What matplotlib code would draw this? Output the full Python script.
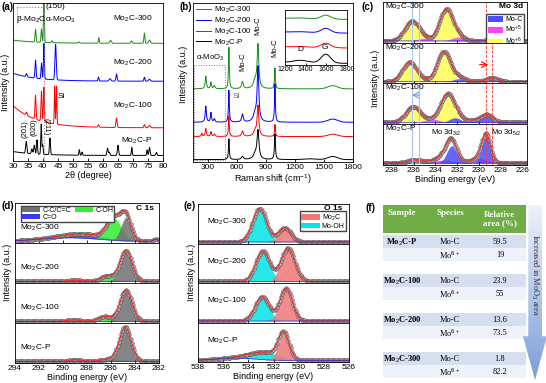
import numpy as np
import matplotlib
matplotlib.use('Agg')
import matplotlib.pyplot as plt
from matplotlib.patches import Patch, Rectangle, Polygon

plt.rcParams['font.family'] = ['Liberation Sans', 'DejaVu Sans']
plt.rcParams['mathtext.fontset'] = 'custom'
plt.rcParams['mathtext.rm'] = 'Liberation Sans'
plt.rcParams['mathtext.bf'] = 'Liberation Sans:bold'
plt.rcParams['axes.linewidth'] = 0.6
plt.rcParams['xtick.direction'] = 'in'
plt.rcParams['ytick.direction'] = 'in'
plt.rcParams['xtick.major.size'] = 2
plt.rcParams['xtick.major.width'] = 0.6
plt.rcParams['xtick.labelsize'] = 6
plt.rcParams['xtick.major.pad'] = 1.5

# ---------------- data ----------------
SAMPLES = ['Mo$_2$C-300', 'Mo$_2$C-200', 'Mo$_2$C-100', 'Mo$_2$C-P']
COLORS = ['#1a8c1a', '#0000ff', '#ff0000', '#000000']

# (a) XRD peaks: (2theta, height, width); baselines: (offset, hump)
XRD_300 = [(37.5, 0.8, 0.17), (39.5, 0.85, 0.17), (40.3, 2.6, 0.15), (43.0, 0.12, 0.2),
           (52.0, 0.08, 0.2), (58.6, 0.35, 0.15), (62.5, 0.18, 0.3), (69.5, 0.15, 0.2),
           (73.8, 0.65, 0.17), (75.5, 0.2, 0.3)]
XRD_200 = [(34.5, 0.2, 0.2), (37.5, 1.15, 0.17), (39.5, 1.0, 0.17), (40.3, 2.25, 0.15),
           (44.2, 2.25, 0.22), (58.5, 0.25, 0.15), (62.3, 0.15, 0.3), (64.5, 0.45, 0.2),
           (73.8, 0.25, 0.17), (75.5, 0.12, 0.3)]
XRD_100 = [(34.5, 0.2, 0.2), (37.5, 1.5, 0.17), (39.5, 1.9, 0.17), (40.3, 2.2, 0.15),
           (43.9, 2.4, 0.13), (44.5, 2.4, 0.13), (58.5, 0.15, 0.2), (64.5, 0.6, 0.2),
           (73.8, 0.2, 0.2), (75.5, 0.15, 0.3)]
XRD_P = [(34.4, 0.75, 0.2), (36.3, 0.3, 0.2), (37.1, 0.55, 0.2), (38.0, 0.9, 0.17),
         (39.4, 1.9, 0.15), (39.9, 0.6, 0.15), (42.3, 1.05, 0.17), (52.1, 0.35, 0.15),
         (53.0, 0.2, 0.15), (61.5, 0.45, 0.2), (62.1, 0.2, 0.2), (65.0, 0.65, 0.2),
         (69.6, 0.5, 0.15), (74.7, 0.35, 0.15), (75.5, 0.5, 0.2), (77.8, 0.2, 0.2)]
XRD_BASE = [(7.45, 0.2), (5.05, 0.5), (2.1, 1.4), (0.35, 0.25)]

# (b) Raman peaks: (shift, height, half width); baselines
RAMAN_300 = [(282, 0.8, 7), (335, 0.4, 6), (370, 0.2, 8), (520, 2.6, 5), (660, 0.45, 10),
             (790, 0.5, 20), (820, 2.7, 10), (995, 1.3, 5), (1590, 0.2, 50)]
RAMAN_200 = [(282, 1.0, 7), (335, 0.6, 6), (370, 0.2, 8), (520, 2.0, 5), (660, 0.5, 10),
             (790, 0.5, 20), (820, 3.4, 10), (995, 2.4, 5), (1590, 0.2, 50)]
RAMAN_100 = [(240, 0.2, 6), (282, 0.5, 7), (335, 0.3, 6), (370, 0.15, 8), (520, 1.3, 5),
             (660, 0.35, 10), (790, 0.3, 20), (820, 1.9, 10), (995, 0.75, 5), (1590, 0.15, 50)]
RAMAN_P = [(520, 1.3, 5), (660, 0.2, 12), (790, 0.3, 20), (820, 1.8, 12), (995, 1.6, 6),
           (1350, 0.05, 60), (1590, 0.2, 50)]
RAMAN_BASE = [4.6, 2.5, 1.6, 0.15]
# inset: base, G height, D height
INSET_BASE = [0.85, 0.6, 0.33, 0.05]
INSET_G = [0.07, 0.08, 0.08, 0.16]
INSET_D = [0.01, 0.01, 0.01, 0.04]

# (c) Mo 3d components: (species, BE, height, width)
MO3D_300 = [('Mo6', 233.0, 1.0, 0.6), ('Mo6', 236.15, 0.62, 0.65), ('Mo5', 231.9, 0.12, 0.6),
            ('Mo5', 235.0, 0.08, 0.6), ('MoC', 229.0, 0.02, 0.5), ('MoC', 232.1, 0.015, 0.5)]
MO3D_200 = [('Mo6', 233.2, 0.95, 0.6), ('Mo6', 236.35, 0.62, 0.65), ('Mo5', 231.5, 0.04, 0.7),
            ('Mo5', 234.5, 0.04, 0.7), ('MoC', 228.8, 0.13, 0.5), ('MoC', 231.9, 0.09, 0.5)]
MO3D_100 = [('Mo6', 232.9, 0.85, 0.6), ('Mo6', 236.05, 0.5, 0.65), ('Mo5', 231.0, 0.07, 0.7),
            ('Mo5', 234.3, 0.1, 0.7), ('MoC', 229.3, 0.25, 0.55), ('MoC', 232.2, 0.15, 0.5)]
MO3D_P = [('Mo4', 233.4, 0.08, 1.0), ('Mo6', 232.8, 0.15, 0.6), ('Mo6', 235.9, 0.1, 0.7),
          ('Mo5', 230.0, 0.15, 0.7), ('Mo5', 233.2, 0.1, 0.7), ('MoC', 229.35, 0.85, 0.4),
          ('MoC', 232.5, 0.55, 0.45)]

# (d) C 1s components and broad background humps
C1S_300 = [('CO', 288.3, 0.14, 1.6), ('COH', 285.75, 0.72, 0.6), ('CC', 284.75, 0.75, 0.42)]
C1S_200 = [('CO', 289.0, 0.04, 0.6), ('COH', 286.3, 0.18, 0.55), ('CC', 284.75, 1.0, 0.5)]
C1S_100 = [('CO', 289.1, 0.05, 0.6), ('COH', 286.5, 0.16, 0.55), ('CC', 284.75, 1.02, 0.5)]
C1S_P = [('CO', 289.0, 0.06, 0.5), ('COH', 285.8, 0.08, 0.9), ('CC', 284.8, 1.08, 0.48)]
C1S_BG = [[(289.5, 0.12, 2.5), (282.25, 0.07, 0.2)], [], [], []]

# (e) O 1s components
O1S_300 = [('OH', 533.1, 1.1, 0.55), ('MC', 531.1, 0.47, 0.5)]
O1S_200 = [('OH', 532.85, 1.0, 0.55), ('MC', 530.85, 1.1, 0.55)]
O1S_100 = [('OH', 532.9, 0.8, 0.55), ('MC', 531.0, 1.07, 0.5)]
O1S_P = [('OH', 532.7, 0.25, 1.2), ('MC', 531.2, 0.85, 0.42)]
O1S_BG = [[], [], [], [(535.0, 0.08, 1.5)]]

# (f) table
TAB_SAMPLES = ['Mo$_2$C-P', 'Mo$_2$C-100', 'Mo$_2$C-200', 'Mo$_2$C-300']
TAB_MOC = ['59.5', '23.9', '13.6', '1.8']
TAB_MO6 = ['19', '55', '73.5', '82.2']

FILL = {'Mo6': '#ffff55', 'Mo5': '#ff40ff', 'MoC': '#4a4aff', 'Mo4': '#c8a040',
        'CC': '#707070', 'COH': '#33ee33', 'CO': '#3a3aff',
        'OH': '#00e5e5', 'MC': '#f07878'}
ORDER = ['Mo6', 'Mo4', 'Mo5', 'MoC', 'CO', 'COH', 'CC', 'OH', 'MC']


def gauss(x, c, h, w):
    return h * np.exp(-0.5 * ((x - c) / w) ** 2)


def lor(x, c, h, w):
    return h / (1 + ((x - c) / w) ** 2)


W, H = 546, 383
fig = plt.figure(figsize=(W / 100, H / 100), dpi=100)


def box(l, t, r, b):
    return [l / W, 1 - b / H, (r - l) / W, (b - t) / H]


def ftext(x, y, s, **kw):
    fig.text(x / W, 1 - y / H, s, **kw)


# ---------------- (a) XRD ----------------
ax = fig.add_axes(box(13, 3, 163, 161))
x = np.linspace(30, 80, 3000)
for peaks, (off, hump), col in zip([XRD_300, XRD_200, XRD_100, XRD_P], XRD_BASE, COLORS):
    y = off + hump * np.exp(-(x - 30) / 8) + sum(gauss(x, c, h, w) for c, h, w in peaks)
    ax.plot(x, y, color=col, lw=0.7)
ax.set_xlim(30, 80)
ax.set_ylim(0, 10)
ax.set_yticks([])
ax.set_xticks(range(30, 81, 5))
ax.set_xlabel('2θ (degree)', fontsize=6.5, labelpad=1)
ax.axvline(40.3, ls=':', color='#888888', lw=0.8)
ax.plot([31.3, 40.3], [9.75, 9.75], ls=':', color='#888888', lw=0.8)
ax.plot([31.3, 31.3], [9.75, 8.6], ls=':', color='#888888', lw=0.8)
ax.text(31.0, 8.95, 'β-Mo$_2$C', fontsize=6, va='center')
ax.text(40.7, 8.95, 'α-MoO$_3$', fontsize=6, va='center')
ax.text(40.9, 9.8, '(150)', fontsize=6, va='center')
ax.text(44.9, 4.1, 'Si', fontsize=6, va='center')
for lab, yy in zip(SAMPLES, [9.0, 6.2, 3.5, 1.3]):
    ax.text(76.5, yy, lab, fontsize=6, ha='right', va='center')
ax.text(34.0, 1.45, '(201)', fontsize=5.5, rotation=90, ha='center', va='bottom')
ax.text(37.1, 1.6, '(020)', fontsize=5.5, rotation=90, ha='center', va='bottom')
ax.text(40.9, 1.6, '(211)', fontsize=5.5, rotation=-90, ha='center', va='bottom')
ftext(6, 82, 'Intensity (a.u.)', fontsize=6.5, rotation=90, ha='center', va='center')
ftext(1, 7, '(a)', fontsize=7, fontweight='bold', va='center')

# ---------------- (b) Raman ----------------
ax = fig.add_axes(box(193, 3, 353, 162))
x = np.linspace(150, 1800, 4000)
for peaks, off, col, lab in zip([RAMAN_300, RAMAN_200, RAMAN_100, RAMAN_P], RAMAN_BASE, COLORS, SAMPLES):
    y = off + sum(lor(x, c, h, w) if w < 40 else gauss(x, c, h, w) for c, h, w in peaks)
    ax.plot(x, y, color=col, lw=0.7, label=lab)
ax.set_xlim(150, 1800)
ax.set_ylim(0, 10)
ax.set_yticks([])
ax.set_xticks(range(300, 1801, 300))
ax.set_xlabel('Raman shift (cm$^{-1}$)', fontsize=6.5, labelpad=1)
ax.add_patch(Rectangle((165, 0.1), 310, 6.0, fill=False, ls=':', ec='#777777', lw=0.7))
ax.text(180, 6.55, 'α-MoO$_3$', fontsize=5.5, va='center')
ax.text(560, 4.15, 'Si', fontsize=6, color='#666666', va='center')
ax.text(665, 5.7, 'Mo-C', fontsize=5.5, rotation=90, ha='center', va='bottom')
ax.text(822, 8.0, 'Mo-C', fontsize=5.5, rotation=90, ha='center', va='bottom')
ax.text(990, 6.6, 'Mo-C', fontsize=5.5, rotation=90, ha='center', va='bottom')
ax.legend(loc='upper left', bbox_to_anchor=(-0.015, 1.025), fontsize=5.7, frameon=False,
          handlelength=1.9, labelspacing=0.05, borderpad=0.2, handletextpad=0.35)
ftext(184, 74, 'Intensity (a.u.)', fontsize=6.5, rotation=90, ha='center', va='center')
ftext(180, 7, '(b)', fontsize=7, fontweight='bold', va='center')

axi = fig.add_axes(box(285, 10, 347, 65))
xi = np.linspace(1200, 1800, 600)
for b, g, d, col in zip(INSET_BASE, INSET_G, INSET_D, COLORS):
    yi = b + gauss(xi, 1595, g, 45) + gauss(xi, 1350, d, 70) - 0.02 * (xi - 1200) / 600
    axi.plot(xi, yi, color=col, lw=0.7)
axi.set_xlim(1200, 1800)
axi.set_ylim(0, 1)
axi.set_yticks([])
axi.set_xticks([1200, 1400, 1600, 1800])
axi.tick_params(labelsize=5, pad=1, length=1.5)
axi.text(1350, 0.28, 'D', fontsize=6, ha='center', va='center')
axi.text(1590, 0.32, 'G', fontsize=6, ha='center', va='center')


# ---------------- XPS helper ----------------
def draw_xps(ax, x, comps, bg, base, step):
    back = base + sum((gauss(x, c, h, w) for c, h, w in bg), np.zeros_like(x))
    env = back.copy()
    for name in ORDER:
        for nm, c, h, w in comps:
            if nm == name:
                g = gauss(x, c, h, w)
                env = env + g
                ax.fill_between(x, back, back + g, color=FILL[nm], alpha=0.85, lw=0)
    idx = slice(None, None, step)
    ax.plot(x[idx], env[idx], 'o', ms=2.6, mfc='#b4b4b4', mec='#555555', mew=0.4)
    ax.plot(x, env, color='#ff2020', lw=0.7)
    ax.plot(x, back, color='#3030cc', lw=0.5)


def stack(l, t, r, b, n):
    hh = (b - t) / n
    return [fig.add_axes(box(l, t + i * hh, r, t + (i + 1) * hh)) for i in range(n)]


# ---------------- (c) Mo 3d ----------------
axs = stack(383, 2, 527, 165, 4)
x = np.linspace(238.8, 225.6, 1200)
for a, comps, lab in zip(axs, [MO3D_300, MO3D_200, MO3D_100, MO3D_P], SAMPLES):
    draw_xps(a, x, comps, [], 0.06, 9)
    a.set_xlim(238.8, 225.6)
    a.set_ylim(0, 1.3)
    a.set_yticks([])
    a.set_xticks(range(238, 225, -2))
    a.text(238.6, 1.15, lab, fontsize=6, va='center')
    a.axvline(236.1, color='#a8c8f0', lw=0.8)
    a.axvline(235.5, color='#a8c8f0', lw=0.8)
    a.axvline(229.4, color='#ff3030', lw=0.6, ls='--')
    if a is not axs[0]:
        a.axvline(228.8, color='#ff3030', lw=0.6, ls='--')
    if a is not axs[-1]:
        a.set_xticklabels([])
axs[0].text(226.0, 1.15, 'Mo 3d', fontsize=6, fontweight='bold', ha='right', va='center')
axs[0].legend(handles=[Patch(fc=FILL['MoC'], ec='none', label='Mo-C'),
                       Patch(fc=FILL['Mo5'], ec='none', label='Mo$^{+5}$'),
                       Patch(fc=FILL['Mo6'], ec='none', label='Mo$^{+6}$')],
              loc='upper right', bbox_to_anchor=(1.0, 0.78), fontsize=5, frameon=True,
              fancybox=False, edgecolor='#444444', framealpha=1, borderpad=0.2,
              labelspacing=0.1, handlelength=2.2, handleheight=0.9, handletextpad=0.3)
axs[1].annotate('', xy=(228.9, 0.6), xytext=(230.2, 0.6),
                arrowprops=dict(arrowstyle='->', color='red', lw=0.8))
axs[2].annotate('', xy=(236.4, 0.93), xytext=(235.2, 0.93),
                arrowprops=dict(arrowstyle='->', color='#6a9ad8', lw=0.8))
axs[3].text(233.0, 1.02, 'Mo 3d$_{3/2}$', fontsize=5.5, ha='center', va='center')
axs[3].text(228.9, 1.02, 'Mo 3d$_{5/2}$', fontsize=5.5, ha='left', va='center')
axs[3].set_xlabel('Binding energy (eV)', fontsize=6.5, labelpad=1)
ftext(375, 78, 'Intensity (a.u.)', fontsize=6.5, rotation=90, ha='center', va='center')
ftext(362, 7, '(c)', fontsize=7, fontweight='bold', va='center')

# ---------------- (d) C 1s ----------------
axs = stack(15, 203, 159, 363, 4)
x = np.linspace(294, 282, 1100)
for a, comps, bg, lab in zip(axs, [C1S_300, C1S_200, C1S_100, C1S_P], C1S_BG, SAMPLES):
    draw_xps(a, x, comps, bg, 0.05, 9)
    a.set_xlim(294, 282)
    a.set_ylim(0, 1.3)
    a.set_yticks([])
    a.set_xticks(range(294, 281, -2))
    a.text(293.6, 0.5, lab, fontsize=6, va='center')
    if a is not axs[-1]:
        a.set_xticklabels([])
axs[0].text(282.4, 1.12, 'C 1s', fontsize=6, fontweight='bold', ha='right', va='center')
axs[0].legend(handles=[Patch(fc=FILL['CC'], ec='none', label='C-C/C=C'),
                       Patch(fc=FILL['CO'], ec='none', label='C=O'),
                       Patch(fc=FILL['COH'], ec='none', label='C-OH')],
              ncol=2, loc='upper left', bbox_to_anchor=(0.02, 1.02), fontsize=5,
              frameon=True, fancybox=False, edgecolor='#444444', framealpha=1,
              borderpad=0.15, labelspacing=0.05, handlelength=2.6, handleheight=0.8,
              handletextpad=0.3, columnspacing=0.6)
axs[3].set_xlabel('Binding energy (eV)', fontsize=6.5, labelpad=1)
ftext(8, 272, 'Intensity (a.u.)', fontsize=6.5, rotation=90, ha='center', va='center')
ftext(2, 206, '(d)', fontsize=7, fontweight='bold', va='center')

# ---------------- (e) O 1s ----------------
axs = stack(198, 204, 349, 362, 4)
x = np.linspace(538, 526, 1100)
for a, comps, bg, lab in zip(axs, [O1S_300, O1S_200, O1S_100, O1S_P], O1S_BG, SAMPLES):
    draw_xps(a, x, comps, bg, 0.05, 9)
    a.set_xlim(538, 526)
    a.set_ylim(0, 1.3)
    a.set_yticks([])
    a.set_xticks(range(538, 525, -2))
    a.text(537.3, 0.7, lab, fontsize=6, va='center')
    if a is not axs[-1]:
        a.set_xticklabels([])
axs[0].text(526.5, 1.15, 'O 1s', fontsize=6, fontweight='bold', ha='right', va='center')
axs[0].legend(handles=[Patch(fc=FILL['MC'], ec='none', label='Mo$_2$C'),
                       Patch(fc=FILL['OH'], ec='none', label='Mo-OH')],
              loc='upper right', bbox_to_anchor=(1.0, 0.9), fontsize=5, frameon=True,
              fancybox=False, edgecolor='#444444', framealpha=1, borderpad=0.15,
              labelspacing=0.05, handlelength=2.6, handleheight=0.8, handletextpad=0.3)
axs[3].set_xlabel('Binding energy (eV)', fontsize=6.5, labelpad=1)
ftext(191, 272, 'Intensity (a.u.)', fontsize=6.5, rotation=90, ha='center', va='center')
ftext(183, 206, '(e)', fontsize=7, fontweight='bold', va='center')

# ---------------- (f) table ----------------
axt = fig.add_axes(box(383, 205, 526, 381))
axt.set_xlim(383, 526)
axt.set_ylim(381, 205)
axt.axis('off')
serif = ['Liberation Serif', 'DejaVu Serif']
axt.add_patch(Rectangle((383, 205), 143, 28, fc='#70ad47', ec='none'))
axt.text(402, 213, 'Sample', family=serif, fontsize=6.5, color='white', fontweight='bold', ha='center', va='center')
axt.text(450, 213, 'Species', family=serif, fontsize=6.5, color='white', fontweight='bold', ha='center', va='center')
axt.text(500, 219, 'Relative\narea (%)', family=serif, fontsize=6.5, color='white', fontweight='bold',
         ha='center', va='center', linespacing=1.1)
for i, (s, v1, v2) in enumerate(zip(TAB_SAMPLES, TAB_MOC, TAB_MO6)):
    yc = 242 + i * 39
    axt.add_patch(Rectangle((383, yc - 6.5), 143, 13, fc='#d6dff0', ec='none'))
    axt.add_patch(Rectangle((383, yc + 6.5), 143, 13, fc='#eef2fa', ec='none'))
    axt.text(402, yc, s, family=serif, fontsize=6, fontweight='bold', ha='center', va='center')
    axt.text(450, yc, 'Mo-C', family=serif, fontsize=6, ha='center', va='center')
    axt.text(500, yc, v1, family=serif, fontsize=6, ha='center', va='center')
    axt.text(450, yc + 13, 'Mo$^{6+}$', family=serif, fontsize=6, ha='center', va='center')
    axt.text(500, yc + 13, v2, family=serif, fontsize=6, ha='center', va='center')
ftext(365, 208, '(f)', fontsize=7, fontweight='bold', va='center')

# arrow with gradient
axa = fig.add_axes(box(522, 205, 547, 380))
axa.set_xlim(0, 1)
axa.set_ylim(0, 1)
axa.axis('off')
arrow = Polygon([(0.25, 1), (0.8, 1), (0.8, 0.25), (1.0, 0.25), (0.52, 0.0), (0.04, 0.25), (0.25, 0.25)],
                closed=True, fc='none', ec='none')
axa.add_patch(arrow)
grad = np.linspace(0, 1, 256).reshape(-1, 1)
im = axa.imshow(grad, extent=(0, 1, 0, 1), aspect='auto', origin='upper',
                cmap=matplotlib.colors.LinearSegmentedColormap.from_list('g', ['#eef2fa', '#7b9ed8']))
im.set_clip_path(arrow)
axa.text(0.52, 0.6, 'Increased in MoO$_3$ area', family=serif, fontsize=6, rotation=-90,
         ha='center', va='center', color='#333333')

fig.savefig('out.png', dpi=100)
